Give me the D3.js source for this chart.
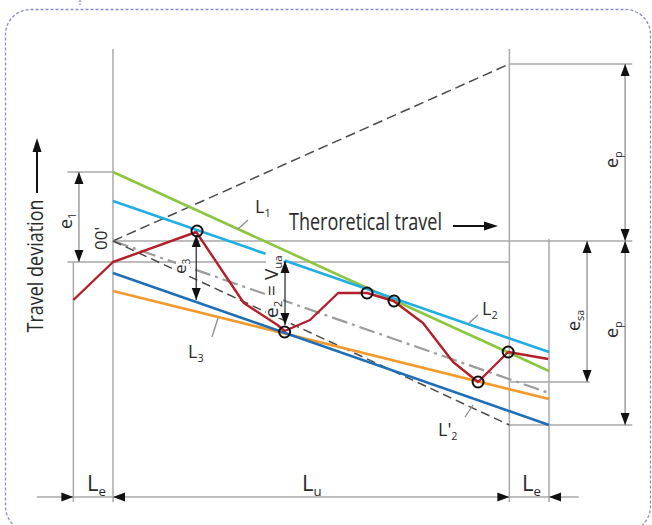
<!DOCTYPE html>
<html><head><meta charset="utf-8">
<script src="https://cdn.jsdelivr.net/npm/d3@7"></script>
<style>
html,body{margin:0;padding:0;background:#fff;}
svg{display:block;}
text{font-family:"Liberation Sans Narrow","Arial Narrow","Open Sans",sans-serif;fill:#2a2a2a;}
</style>
</head><body>
<svg id="c" width="652" height="525"></svg>
<script>
// ---- data (travel in % of Lu, deviation in arbitrary units, + = up) ----
const zoneBounds = [-10, 0, 100, 110];            // Le | Lu | Le
const lineL1 = [[0, 17.25], [110, -32.5]];
const lineL2a = [[0, 10], [38.5, -3.2]];
const lineL2b = [[43.3, -4.9], [110, -27.75]];
const lineL3 = [[0, -8], [110, -46]];
const lineOrange = [[0, -12.5], [110, -39.5]];
const lineMean = [[0, 0], [110, -38]];
const lineL2prime = [[0, 0], [100, -46]];
const lineEnvelope = [[0, 0], [100, 44.25]];
const measured = [[-10, -14.75], [0, -5.25], [21, 2.25], [33, -15.5], [41.5, -21], [43.3, -22.5],
  [49.7, -19.75], [56.8, -13], [64.1, -13], [70.8, -15], [78.2, -20.5], [85.8, -30.25],
  [92.1, -35.25], [99.7, -27.75], [109.8, -29.5]];
const contactPts = [[21.2, 2.5], [43.3, -22.75], [64.1, -13], [70.9, -15], [92.1, -35.25], [99.7, -27.75]];
// guide segments [u1, v1, u2, v2]
const guides = [
  [-10, -5.25, -10, -65.25], [0, 48, 0, -65.25], [100, 48, 100, -65.25], [110, 0.5, 110, -65.25],
  [-11.5, 17.25, 0, 17.25], [-11.5, -5.25, 100, -5.25], [0, 0, 131, 0],
  [100, 44.25, 131, 44.25], [100, -35.25, 120.3, -35.25], [100, -46, 131, -46],
  [-19.2, -64, 117.5, -64]
];
// vertical dimension arrows [u, vTop, vBottom]
const dimArrows = [[-8.6, 17.25, -5.25], [21, 1.5, -14.75], [43.4, -5, -21],
  [129.2, 44.25, 0], [129.2, 0, -46], [119.6, 0, -35.25]];
// bottom dimension arrow tips [u, direction]
const lengthTips = [[-10, 1], [0, -1], [100, 1], [110, -1]];

// ---- scales ----
const x = d3.scaleLinear().domain([0, 110]).range([113, 549]);
const y = d3.scaleLinear().domain([0, 10]).range([241, 201]);
const svg = d3.select("#c");
const line = d3.line().x(d => x(d[0])).y(d => y(d[1]));

// frame
svg.append("rect").attr("x", 5.5).attr("y", 9.5).attr("width", 645).attr("height", 522)
  .attr("rx", 25).attr("fill", "none").attr("stroke", "#8a8ad2").attr("stroke-width", 1.3)
  .attr("stroke-dasharray", "3,2");
svg.append("line").attr("x1", 80).attr("x2", 80).attr("y1", 0).attr("y2", 5)
  .attr("stroke", "#8a8ad2").attr("stroke-width", 1.3).attr("stroke-dasharray", "2,1.5");

// guides
svg.append("g").selectAll("line").data(guides).join("line")
  .attr("x1", d => x(d[0])).attr("y1", d => y(d[1])).attr("x2", d => x(d[2])).attr("y2", d => y(d[3]))
  .attr("stroke", "#a9a9a9").attr("stroke-width", 1.5);

// dashed / dash-dot
svg.append("path").attr("d", line(lineEnvelope)).attr("fill", "none").attr("stroke", "#4a4a4a")
  .attr("stroke-width", 1.5).attr("stroke-dasharray", "10,5");
svg.append("path").attr("d", line(lineMean)).attr("fill", "none").attr("stroke", "#9c9c9c")
  .attr("stroke-width", 2.2).attr("stroke-dasharray", "16,5,3,5");
svg.append("path").attr("d", line(lineL2prime)).attr("fill", "none").attr("stroke", "#4a4a4a")
  .attr("stroke-width", 1.5).attr("stroke-dasharray", "9,5");

// coloured lines
const colored = [[lineOrange, "#f39a2a"], [lineL3, "#1f6fb8"], [lineL1, "#8cc63f"],
  [lineL2a, "#20aee5"], [lineL2b, "#20aee5"]];
svg.append("g").selectAll("path").data(colored).join("path")
  .attr("d", d => line(d[0])).attr("fill", "none").attr("stroke", d => d[1]).attr("stroke-width", 2.6);

// white boxes behind rotated labels
svg.append("rect").attr("x", 266).attr("y", 252).attr("width", 17).attr("height", 66).attr("fill", "#fff");
svg.append("rect").attr("x", 176).attr("y", 254).attr("width", 14).attr("height", 22).attr("fill", "#fff");

// measured curve
svg.append("path").attr("d", line(measured)).attr("fill", "none").attr("stroke", "#b41f2c")
  .attr("stroke-width", 2.4).attr("stroke-linejoin", "round");

// arrowheads
function head(px, py, dx, dy, len = 12, hw = 4.5) {
  const bx = px - dx * len, by = py - dy * len;
  const nx = -dy, ny = dx;
  svg.append("path").attr("d", `M${px},${py}L${bx + nx * hw},${by + ny * hw}L${bx - nx * hw},${by - ny * hw}Z`)
    .attr("fill", "#111");
}
dimArrows.forEach(([u, v1, v2], i) => {
  const px = x(u), p1 = y(v1), p2 = y(v2);
  svg.append("line").attr("x1", px).attr("x2", px).attr("y1", p1).attr("y2", p2)
    .attr("stroke", i === 1 || i === 2 ? "#333" : "#8c8c8c").attr("stroke-width", 1.3);
  head(px, p1, 0, -1);
  head(px, p2, 0, 1);
});
lengthTips.forEach(([u, dir]) => head(x(u), y(-64), dir, 0));

// contact circles
svg.append("g").selectAll("circle").data(contactPts).join("circle")
  .attr("cx", d => x(d[0])).attr("cy", d => y(d[1])).attr("r", 5.5)
  .attr("fill", "none").attr("stroke", "#111").attr("stroke-width", 2);

// leader lines
const leaders = [[238, 229, 248, 220], [469, 323, 478, 315], [465, 417, 473, 405], [212, 337, 218, 318]];
svg.append("g").selectAll("line").data(leaders).join("line")
  .attr("x1", d => d[0]).attr("y1", d => d[1]).attr("x2", d => d[2]).attr("y2", d => d[3])
  .attr("stroke", "#8c8c8c").attr("stroke-width", 1.3);

// text helpers
function label(px, py, parts, size, rotate) {
  const t = svg.append("text").attr("font-size", size)
    .attr("transform", `translate(${px},${py})` + (rotate ? " rotate(-90)" : ""));
  let off = 0;
  parts.forEach(([s, sub]) => {
    const o = sub ? size * 0.22 : 0;
    t.append("tspan").text(s).attr("font-size", sub ? size * 0.6 : size).attr("dy", o - off);
    off = o;
  });
  return t;
}
label(255, 213, [["L"], ["1", 1]], 18);
label(482, 315, [["L"], ["2", 1]], 18);
label(438, 436, [["L'"], ["2", 1]], 18);
label(188, 358, [["L"], ["3", 1]], 18);
label(87, 491, [["L"], ["e", 1]], 22);
label(302, 491, [["L"], ["u", 1]], 22);
label(522, 491, [["L"], ["e", 1]], 22);
label(72, 229, [["e"], ["1", 1]], 18, true);
label(107, 250, [["00'"]], 17, true);
label(186, 274, [["e"], ["3", 1]], 17, true);
label(278, 318, [["e"], ["2", 1], [" = V"], ["ua", 1]], 19, true);
label(580, 331, [["e"], ["sa", 1]], 18, true);
label(618, 168, [["e"], ["p", 1]], 18, true);
label(618, 338, [["e"], ["p", 1]], 18, true);

// axis titles
svg.append("text").attr("transform", "translate(43,266) rotate(-90)").attr("text-anchor", "middle")
  .attr("font-size", 22).attr("textLength", 133).attr("lengthAdjust", "spacingAndGlyphs").text("Travel deviation");
svg.append("line").attr("x1", 37).attr("x2", 37).attr("y1", 193).attr("y2", 150).attr("stroke", "#111").attr("stroke-width", 2);
head(37, 138, 0, -1, 14, 4.5);
svg.append("text").attr("x", 289).attr("y", 230).attr("font-size", 23).attr("textLength", 153)
  .attr("lengthAdjust", "spacingAndGlyphs").text("Theroretical travel");
svg.append("line").attr("x1", 453).attr("x2", 486).attr("y1", 226).attr("y2", 226).attr("stroke", "#111").attr("stroke-width", 2);
head(498, 226, 1, 0, 14, 4.5);
</script>
</body></html>
